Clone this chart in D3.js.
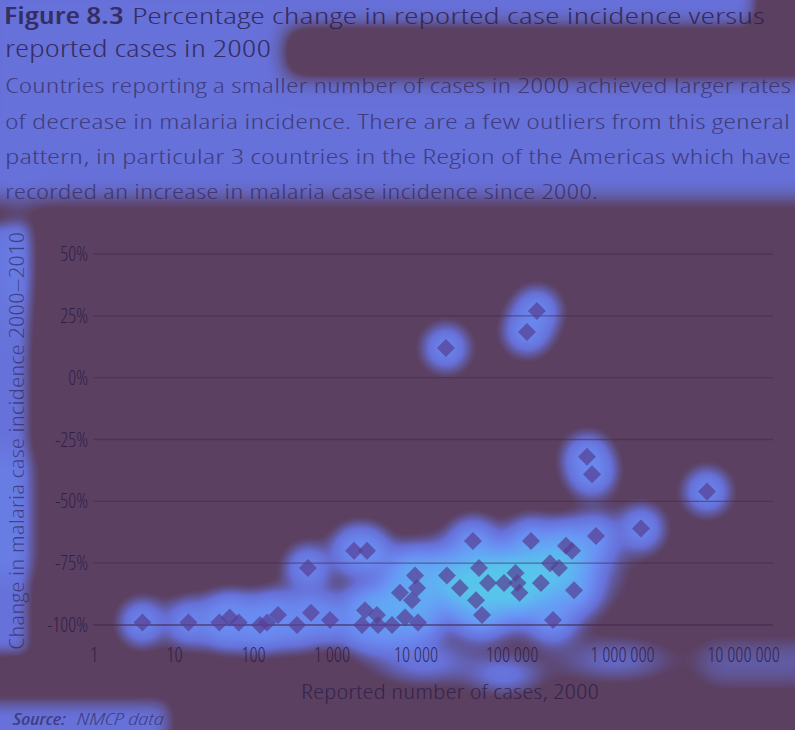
<!DOCTYPE html>
<html><head><meta charset="utf-8">
<script src="https://cdn.jsdelivr.net/npm/d3@7"></script>
<style>
html,body{margin:0;padding:0;background:#5b4061;}
svg{display:block}
text{font-family:"Open Sans",Roboto,Lato,sans-serif;font-stretch:condensed;}
</style>
</head><body>
<svg id="chart" width="795" height="730"></svg>
<script>
// ---------- data ----------
const titleBold = "Figure 8.3";
const titleRest = "Percentage change in reported case incidence versus";
const titleLine2 = "reported cases in 2000";
const subtitleLines = [
  "Countries reporting a smaller number of cases in 2000 achieved larger rates",
  "of decrease in malaria incidence. There are a few outliers from this general",
  "pattern, in particular 3 countries in the Region of the Americas which have",
  "recorded an increase in malaria case incidence since 2000."
];
const yAxisTitle = "Change in malaria case incidence 2000–2010";
const xAxisTitle = "Reported number of cases, 2000";
const sourceLabel = "Source:";
const sourceText = "NMCP data";

const xTicks = [1, 10, 100, 1000, 10000, 100000, 1000000, 10000000];
const xTickLabels = ["1", "10", "100", "1 000", "10 000", "100 000", "1 000 000", "10 000 000"];
const yTicks = [50, 25, 0, -25, -50, -75, -100];
const yTickLabels = ["50%", "25%", "0%", "-25%", "-50%", "-75%", "-100%"];

// reported cases in 2000
const cases = [4, 15, 37, 50, 65, 121, 149, 205, 358, 494, 540, 943,
  1830, 2610, 2470, 2280, 3430, 3530, 5180, 7400, 10500, 6450, 8960, 9730, 10240,
  21000, 28700, 39200, 45300, 56200, 82500, 107600, 112000, 116900, 42200, 48700,
  148500, 182700, 220800, 266000, 308000, 349000, 364000, 235000, 575000,
  1422000, 4990000, 477000, 530000, 20500, 136700, 168000];
// % change in case incidence 2000-2010
const change = [-99, -99, -99, -97, -99, -100, -99, -96, -100, -77, -95, -98,
  -70, -70, -94, -100, -96, -100, -100, -97, -99, -87, -90, -80, -85,
  -80, -85, -66, -77, -83, -83, -79, -83, -87, -90, -96,
  -66, -83, -75, -77, -68, -70, -86, -98, -64,
  -61, -46, -32, -39, 12, 18.5, 27];

// ---------- layout ----------
const W = 795, H = 730;
const svg = d3.select("#chart");
const plotRight = 773;

const xLog = d3.scaleLinear()
  .domain([0, 1, 2, 3, 4, 5, 6, 7])
  .range([94, 174.5, 253.5, 332, 416, 512, 622.5, 743.5]);
const x = v => xLog(Math.log10(v));
const y = d3.scaleLinear().domain([-100, 50]).range([625, 254]);

const points = cases.map((c, i) => ({cases: c, change: change[i]}));

// ---------- heat overlay (background image) ----------
const keep = new Float32Array(W * H).fill(1);
const sigma = 15, R = Math.ceil(sigma * 4), s2 = 2 * sigma * sigma;
points.forEach(p => {
  const cx = x(p.cases), cy = y(p.change);
  const j0 = Math.max(0, Math.floor(cy - R)), j1 = Math.min(H, Math.ceil(cy + R));
  const i0 = Math.max(0, Math.floor(cx - R)), i1 = Math.min(W, Math.ceil(cx + R));
  for (let j = j0; j < j1; j++) {
    const dy = j + 0.5 - cy;
    for (let i = i0; i < i1; i++) {
      const dx = i + 0.5 - cx;
      keep[j * W + i] *= 1 - 0.78 * Math.exp(-(dx * dx + dy * dy) / s2);
    }
  }
});
const field = new Float32Array(W * H);
for (let n = 0; n < W * H; n++) field[n] = 1 - keep[n];

function addGauss(cx, cy, sx, sy, w) {
  const Rx = Math.ceil(sx * 4), Ry = Math.ceil(sy * 4);
  const j0 = Math.max(0, Math.floor(cy - Ry)), j1 = Math.min(H, Math.ceil(cy + Ry));
  const i0 = Math.max(0, Math.floor(cx - Rx)), i1 = Math.min(W, Math.ceil(cx + Rx));
  for (let j = j0; j < j1; j++) {
    const dy = (j + 0.5 - cy) / sy;
    for (let i = i0; i < i1; i++) {
      const dx = (i + 0.5 - cx) / sx;
      field[j * W + i] += w * Math.exp(-0.5 * (dx * dx + dy * dy));
    }
  }
}
// broad attention blobs: [cx, cy, sx, sy, weight]
const blobs = [
  [495, 584, 52, 24, 1.9],
  [392, 608, 24, 15, 0.6],
  [562, 560, 30, 18, 0.7],
  [405, 562, 22, 12, 0.35],
  [425, 662, 34, 15, 0.45],
  [505, 675, 24, 13, 0.45],
  [615, 660, 40, 15, 0.35],
  [18, 265, 14, 40, 0.2]
];
blobs.forEach(b => addGauss(...b));

function erf(z) {
  const t = 1 / (1 + 0.3275911 * Math.abs(z));
  const r = 1 - (((((1.061405429 * t - 1.453152027) * t) + 1.421413741) * t - 0.284496736) * t + 0.254829592) * t * Math.exp(-z * z);
  return z >= 0 ? r : -r;
}
const Phi = z => 0.5 * (1 + erf(z / Math.SQRT2));
// glow areas around texts: [x0, y0, x1, y1, blur, weight]
const glowRects = [
  [-30, -30, 825, 200, 11, 0.42],
  [288, 30, 825, 74, 11, -0.7],
  [755, -30, 825, 40, 8, -0.5],
  [-30, 226, 27, 652, 7, 0.44],
  [-30, 455, 38, 575, 12, 0.2],
  [-30, 703, 168, 745, 9, 0.44],
  [700, 642, 825, 684, 14, 0.3]
];
glowRects.forEach(([x0, y0, x1, y1, b, w]) => {
  const cx = new Float32Array(W), cy = new Float32Array(H);
  for (let i = 0; i < W; i++) cx[i] = Phi((i + 0.5 - x0) / b) - Phi((i + 0.5 - x1) / b);
  for (let j = 0; j < H; j++) cy[j] = Phi((j + 0.5 - y0) / b) - Phi((j + 0.5 - y1) / b);
  for (let j = 0; j < H; j++) {
    const vy = cy[j] * w;
    if (Math.abs(vy) < 1e-4) continue;
    for (let i = 0; i < W; i++) field[j * W + i] += vy * cx[i];
  }
});
const heatColor = d3.scaleLinear()
  .domain([0, 0.22, 0.5, 0.72, 0.86, 1])
  .range(["#5b4061", "#6670d8", "#6a8cf2", "#62a8f4", "#58c4ec", "#4ecfe0"])
  .interpolate(d3.interpolateRgb).clamp(true);
const lut = d3.range(256).map(k => d3.rgb(heatColor(k / 255)));
const canvas = document.createElement("canvas");
canvas.width = W; canvas.height = H;
const ctx = canvas.getContext("2d");
const img = ctx.createImageData(W, H);
const kHeat = 0.8, s0 = 0.1;
for (let n = 0; n < W * H; n++) {
  const t = 1 - Math.exp(-kHeat * Math.max(0, field[n] - s0));
  const c = lut[Math.min(255, Math.round(t * 255))];
  img.data[n * 4] = c.r; img.data[n * 4 + 1] = c.g; img.data[n * 4 + 2] = c.b; img.data[n * 4 + 3] = 255;
}
ctx.putImageData(img, 0, 0);
svg.append("image").attr("x", 0).attr("y", 0).attr("width", W).attr("height", H)
  .attr("href", canvas.toDataURL());

// ---------- text colours ----------
const ink = "#2a1a45";

// ---------- titles ----------
svg.append("text").attr("x", 4).attr("y", 24.3).attr("font-size", 22.5).attr("font-weight", 600)
  .attr("fill", ink).attr("fill-opacity", 0.8).attr("textLength", 120).attr("lengthAdjust", "spacingAndGlyphs")
  .text(titleBold);
svg.append("text").attr("x", 132).attr("y", 24.3).attr("font-size", 22.5).attr("font-weight", 300)
  .attr("fill", ink).attr("fill-opacity", 0.8).attr("textLength", 633).attr("lengthAdjust", "spacingAndGlyphs")
  .text(titleRest);
svg.append("text").attr("x", 5).attr("y", 57).attr("font-size", 23).attr("font-weight", 300)
  .attr("fill", ink).attr("fill-opacity", 0.8).attr("textLength", 266).attr("lengthAdjust", "spacingAndGlyphs")
  .text(titleLine2);
const subLens = [786, 785, 786, 593];
const subY = [93, 128.5, 164, 199];
subtitleLines.forEach((s, i) => {
  svg.append("text").attr("x", 5).attr("y", subY[i]).attr("font-size", 21).attr("font-weight", 300)
    .attr("fill", ink).attr("fill-opacity", 0.62).attr("textLength", subLens[i]).attr("lengthAdjust", "spacingAndGlyphs")
    .text(s);
});

// ---------- gridlines ----------
svg.append("g").selectAll("line").data(yTicks).join("line")
  .attr("x1", xLog(0) - 1).attr("x2", plotRight)
  .attr("y1", d => y(d)).attr("y2", d => y(d))
  .attr("stroke", "#45294f").attr("stroke-opacity", d => d === -100 ? 0.75 : 0.55).attr("stroke-width", 1.3);

// ---------- y tick labels ----------
svg.append("g").selectAll("text").data(yTicks).join("text")
  .attr("x", 88).attr("y", d => y(d) + 7).attr("text-anchor", "end").attr("font-size", 19.5).attr("font-weight", 300)
  .attr("fill", ink).attr("fill-opacity", 0.85)
  .text((d, i) => yTickLabels[i]);

// ---------- x tick labels ----------
svg.append("g").selectAll("text").data(xTicks).join("text")
  .attr("x", d => x(d)).attr("y", 662).attr("text-anchor", "middle").attr("font-size", 20).attr("font-weight", 300)
  .attr("fill", ink).attr("fill-opacity", 0.85)
  .text((d, i) => xTickLabels[i]);

// ---------- axis titles ----------
svg.append("text").attr("transform", "translate(24,441) rotate(-90)")
  .attr("text-anchor", "middle").attr("font-size", 20).attr("font-weight", 300)
  .attr("fill", ink).attr("fill-opacity", 0.6).attr("textLength", 418).attr("lengthAdjust", "spacingAndGlyphs")
  .text(yAxisTitle);
svg.append("text").attr("x", 450).attr("y", 699).attr("text-anchor", "middle").attr("font-size", 21).attr("font-weight", 300)
  .attr("fill", ink).attr("fill-opacity", 0.75).attr("textLength", 298).attr("lengthAdjust", "spacingAndGlyphs")
  .text(xAxisTitle);
svg.append("text").attr("x", 13).attr("y", 725).attr("font-size", 17).attr("font-style", "italic").attr("font-weight", 600)
  .attr("fill", ink).attr("fill-opacity", 0.6).attr("textLength", 53).attr("lengthAdjust", "spacingAndGlyphs")
  .text(sourceLabel);
svg.append("text").attr("x", 77).attr("y", 725).attr("font-size", 17).attr("font-style", "italic").attr("font-weight", 300)
  .attr("fill", ink).attr("fill-opacity", 0.6).attr("textLength", 87).attr("lengthAdjust", "spacingAndGlyphs")
  .text(sourceText);

// ---------- diamonds ----------
const diamond = d3.symbol().type(d3.symbolSquare).size(162);
svg.append("g").selectAll("path").data(points).join("path")
  .attr("d", diamond)
  .attr("transform", d => `translate(${x(d.cases)},${y(d.change)}) rotate(45)`)
  .attr("fill", "#574096").attr("fill-opacity", 0.72);
</script>
</body></html>
